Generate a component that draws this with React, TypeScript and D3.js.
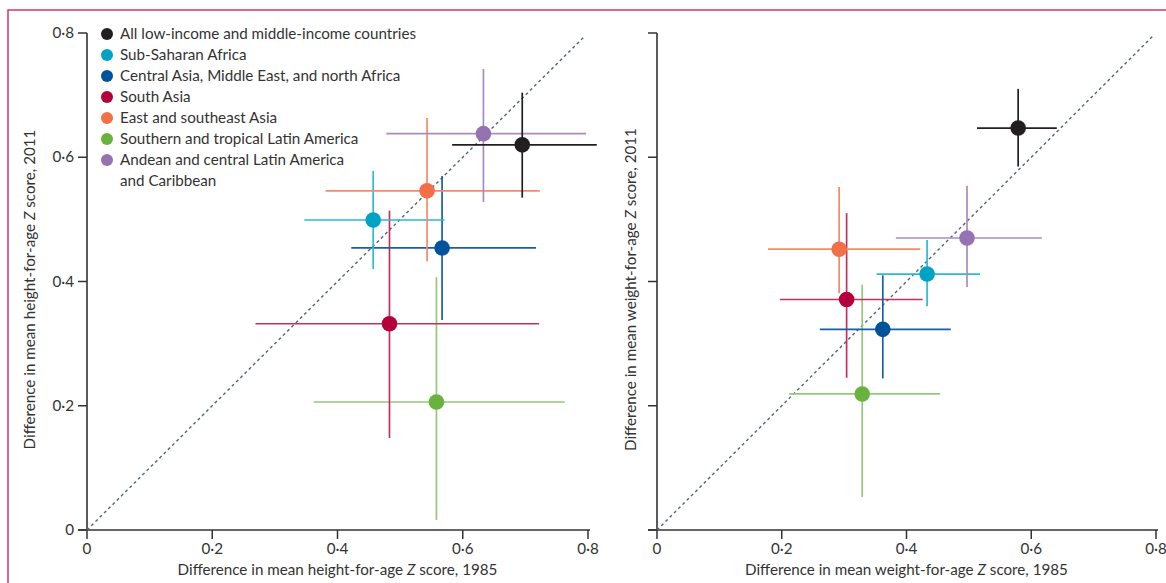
import React from "react";
import * as d3 from "d3";

// regions (legend order)
const regions = [
  "All low-income and middle-income countries",
  "Sub-Saharan Africa",
  "Central Asia, Middle East, and north Africa",
  "South Asia",
  "East and southeast Asia",
  "Southern and tropical Latin America",
  "Andean and central Latin America|and Caribbean",
];
const dotColors = ["#231f20", "#00a3c4", "#00539b", "#b4003a", "#f26f47", "#6ab23e", "#9572b0"];
const barColors = ["#231f20", "#2bbad6", "#1a5ea6", "#c4305e", "#f58a68", "#96c87a", "#a98bc2"];

// height-for-age: 1985 (x) and 2011 (y), with ranges
const hX = [0.695, 0.457, 0.567, 0.483, 0.543, 0.558, 0.633];
const hXlo = [0.583, 0.347, 0.422, 0.269, 0.381, 0.362, 0.478];
const hXhi = [0.814, 0.571, 0.717, 0.722, 0.723, 0.763, 0.797];
const hY = [0.62, 0.499, 0.454, 0.332, 0.546, 0.206, 0.638];
const hYlo = [0.535, 0.42, 0.338, 0.148, 0.432, 0.016, 0.528];
const hYhi = [0.704, 0.578, 0.57, 0.514, 0.663, 0.407, 0.742];

// weight-for-age
const wX = [0.579, 0.433, 0.362, 0.304, 0.292, 0.329, 0.497];
const wXlo = [0.513, 0.352, 0.261, 0.197, 0.178, 0.212, 0.383];
const wXhi = [0.641, 0.518, 0.471, 0.426, 0.422, 0.454, 0.617];
const wY = [0.647, 0.412, 0.323, 0.371, 0.452, 0.219, 0.47];
const wYlo = [0.585, 0.36, 0.244, 0.245, 0.381, 0.053, 0.391];
const wYhi = [0.71, 0.467, 0.41, 0.51, 0.552, 0.395, 0.554];

const ticks = [0, 0.2, 0.4, 0.6, 0.8];
const tickLabels = ["0", "0·2", "0·4", "0·6", "0·8"];

const font = "Lato, 'Open Sans', sans-serif";
const ink = "#333";
const fs = 15.2;

type PanelProps = {
  x0: number;
  x1: number;
  xs: number[];
  xlo: number[];
  xhi: number[];
  ys: number[];
  ylo: number[];
  yhi: number[];
  measure: string;
  showYLabels: boolean;
  yTitleX: number;
};

const Panel = (p: PanelProps) => {
  const x = d3.scaleLinear().domain([0, 0.8]).range([p.x0, p.x1]);
  const y = d3.scaleLinear().domain([0, 0.8]).range([530, 33]);
  const line = d3.line<number>().x((d) => x(d)).y((d) => y(d));
  const order = [5, 3, 2, 1, 4, 6, 0];
  return (
    <g>
      {/* axes */}
      <line x1={x(0)} x2={x(0)} y1={y(0)} y2={y(0.8)} stroke={ink} strokeWidth={1.6} />
      <line x1={x(0) - 9} x2={x(0.8) + 2} y1={y(0)} y2={y(0)} stroke={ink} strokeWidth={1.6} />
      {ticks.map((t, i) => (
        <g key={"y" + i}>
          <line x1={x(0) - 9} x2={x(0)} y1={y(t)} y2={y(t)} stroke={ink} strokeWidth={1.5} />
          {p.showYLabels && (
            <text x={x(0) - 13} y={y(t) + 5} textAnchor="end" fontSize={fs} fill={ink} fontFamily={font}>
              {tickLabels[i]}
            </text>
          )}
        </g>
      ))}
      {ticks.map((t, i) => (
        <g key={"x" + i}>
          <line x1={x(t)} x2={x(t)} y1={y(0)} y2={y(0) + 9} stroke={ink} strokeWidth={1.5} />
          <text x={x(t)} y={554} textAnchor="middle" fontSize={fs} fill={ink} fontFamily={font}>
            {tickLabels[i]}
          </text>
        </g>
      ))}
      <text x={(x(0) + x(0.8)) / 2} y={575} textAnchor="middle" fontSize={fs} fill={ink} fontFamily={font}>
        Difference in mean {p.measure}-for-age <tspan fontStyle="italic">Z</tspan> score, 1985
      </text>
      <text
        transform={`translate(${p.yTitleX},${y(0.4) + 8}) rotate(-90)`}
        textAnchor="middle"
        fontSize={fs}
        fill={ink}
        fontFamily={font}
      >
        Difference in mean {p.measure}-for-age <tspan fontStyle="italic">Z</tspan> score, 2011
      </text>
      {/* line of equality */}
      <path d={line([0, 0.795]) as string} stroke="#4f6678" strokeWidth={1.4} strokeDasharray="3,3" fill="none" />
      {/* error bars and points */}
      {order.map((i) => (
        <g key={i}>
          <line x1={x(p.xlo[i])} x2={x(p.xhi[i])} y1={y(p.ys[i])} y2={y(p.ys[i])} stroke={barColors[i]} strokeWidth={1.7} />
          <line x1={x(p.xs[i])} x2={x(p.xs[i])} y1={y(p.ylo[i])} y2={y(p.yhi[i])} stroke={barColors[i]} strokeWidth={1.7} />
          <circle cx={x(p.xs[i])} cy={y(p.ys[i])} r={7.8} fill={dotColors[i]} />
        </g>
      ))}
    </g>
  );
};

const App = () => {
  return (
    <svg width={1166} height={583} style={{ position: "absolute", left: 0, top: 0 }}>
      <rect x={0} y={0} width={1166} height={583} fill="#fff" />
      <rect x={8} y={10} width={1200} height={620} fill="none" stroke="#d5356a" strokeWidth={1.5} />
      <Panel
        x0={87}
        x1={588}
        xs={hX}
        xlo={hXlo}
        xhi={hXhi}
        ys={hY}
        ylo={hYlo}
        yhi={hYhi}
        measure="height"
        showYLabels={true}
        yTitleX={35}
      />
      <Panel
        x0={657}
        x1={1156}
        xs={wX}
        xlo={wXlo}
        xhi={wXhi}
        ys={wY}
        ylo={wYlo}
        yhi={wYhi}
        measure="weight"
        showYLabels={false}
        yTitleX={636}
      />
      {/* legend */}
      <g fontFamily={font} fontSize={fs} fill={ink}>
        {regions.map((r, i) => {
          const lines = r.split("|");
          return (
            <g key={r} transform={`translate(0,${34 + i * 21})`}>
              <circle cx={107} cy={0} r={6} fill={dotColors[i]} />
              {lines.map((l, j) => (
                <text key={j} x={120} y={5 + j * 21}>
                  {l}
                </text>
              ))}
            </g>
          );
        })}
      </g>
    </svg>
  );
};

export default App;
